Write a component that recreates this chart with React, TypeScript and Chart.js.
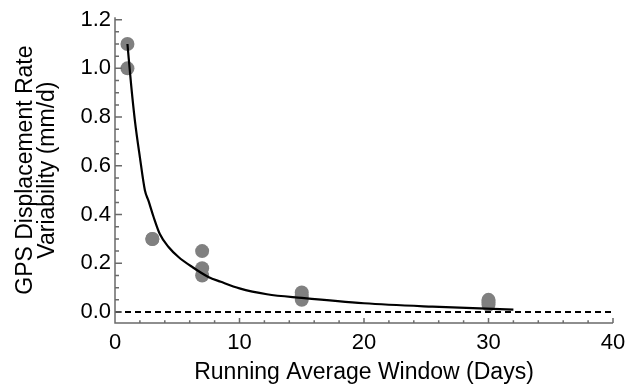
import React, { useEffect, useRef } from "react";
import { Chart, registerables } from "chart.js";

Chart.register(...registerables);

// Observed data points (window length in days, variability mm/d)
const pointDays = [1, 1, 3, 3, 7, 7, 7, 15, 15, 15, 30, 30, 30];
const pointValues = [1.1, 1.0, 0.3, 0.3, 0.25, 0.18, 0.15, 0.08, 0.065, 0.05, 0.05, 0.04, 0.03];

// Fitted curve
const fitDays = [1, 1.3, 1.6, 2.0, 2.4, 2.7, 3.1, 3.6, 4.3, 5.1, 6.2, 7.5, 8.5, 10, 12.2, 15, 20, 25.5, 32];
const fitValues = [1.1, 0.93, 0.785, 0.635, 0.5, 0.455, 0.39, 0.32, 0.267, 0.226, 0.185, 0.144, 0.124, 0.097, 0.073, 0.058, 0.036, 0.022, 0.01];

// Zero reference line
const zeroDays = [0, 40];
const zeroValues = [0, 0];

// Axis ticks
const xMajorTicks = [0, 10, 20, 30, 40];
const yMajorTicks = [0, 0.2, 0.4, 0.6, 0.8, 1.0, 1.2];
const xMinorTicks = [2, 4, 6, 8, 12, 14, 16, 18, 22, 24, 26, 28, 32, 34, 36, 38];
const yMinorTicks = [0.05, 0.1, 0.15, 0.25, 0.3, 0.35, 0.45, 0.5, 0.55, 0.65, 0.7, 0.75, 0.85, 0.9, 0.95, 1.05, 1.1, 1.15];

const xTitle = "Running Average Window (Days)";
const yTitle = ["GPS Displacement Rate", "Variability (mm/d)"];

const FONT = "'Liberation Sans', Arial, sans-serif";
const AXIS_COLOR = "#6a6a6a";

const inwardTicks = {
  id: "inwardTicks",
  afterDatasetsDraw(chart: any) {
    const ctx = chart.ctx;
    const area = chart.chartArea;
    const xs = chart.scales.x;
    const ys = chart.scales.y;
    ctx.save();
    ctx.strokeStyle = AXIS_COLOR;
    ctx.lineWidth = 1.5;
    ctx.setLineDash([]);
    ctx.beginPath();
    ctx.moveTo(area.left, area.top);
    ctx.lineTo(area.left, area.bottom);
    ctx.lineTo(area.right, area.bottom);
    xMajorTicks.forEach((v) => {
      const px = xs.getPixelForValue(v);
      ctx.moveTo(px, area.bottom);
      ctx.lineTo(px, area.bottom - 5);
    });
    xMinorTicks.forEach((v) => {
      const px = xs.getPixelForValue(v);
      ctx.moveTo(px, area.bottom);
      ctx.lineTo(px, area.bottom - 2.8);
    });
    yMajorTicks.forEach((v) => {
      const py = ys.getPixelForValue(v);
      ctx.moveTo(area.left, py);
      ctx.lineTo(area.left + 7, py);
    });
    yMinorTicks.forEach((v) => {
      const py = ys.getPixelForValue(v);
      ctx.moveTo(area.left, py);
      ctx.lineTo(area.left + 4, py);
    });
    ctx.stroke();
    ctx.restore();
  },
};

export default function App() {
  const canvasRef = useRef<HTMLCanvasElement | null>(null);

  useEffect(() => {
    if (!canvasRef.current) return;
    const chart = new Chart(canvasRef.current, {
      type: "scatter",
      data: {
        datasets: [
          {
            label: "fit",
            type: "line",
            data: fitDays.map((d, i) => ({ x: d, y: fitValues[i] })),
            borderColor: "#000",
            borderWidth: 2.2,
            pointRadius: 0,
            cubicInterpolationMode: "monotone",
            fill: false,
            order: 1,
          } as any,
          {
            label: "zero",
            type: "line",
            data: zeroDays.map((d, i) => ({ x: d, y: zeroValues[i] })),
            borderColor: "#000",
            borderWidth: 2,
            borderDash: [6, 4],
            pointRadius: 0,
            fill: false,
            order: 2,
          } as any,
          {
            label: "observed",
            data: pointDays.map((d, i) => ({ x: d, y: pointValues[i] })),
            backgroundColor: "#808080",
            borderWidth: 0,
            pointRadius: 7,
            pointHoverRadius: 7,
            order: 3,
          },
        ],
      },
      options: {
        animation: false,
        responsive: true,
        maintainAspectRatio: false,
        devicePixelRatio: 1,
        layout: { padding: { top: 16, right: 23, left: 0, bottom: 0 } },
        plugins: { legend: { display: false }, tooltip: { enabled: false } },
        scales: {
          x: {
            type: "linear",
            min: 0,
            max: 40,
            afterBuildTicks: (s: any) => {
              s.ticks = xMajorTicks.map((v) => ({ value: v }));
            },
            afterFit: (s: any) => {
              s.height = 64;
            },
            grid: { display: true, drawOnChartArea: false, drawTicks: false },
            border: { display: false },
            ticks: {
              color: "#000",
              font: { family: FONT, size: 22 },
              padding: 7,
              maxRotation: 0,
              autoSkip: false,
            },
            title: {
              display: true,
              text: xTitle,
              color: "#000",
              font: { family: FONT, size: 23, lineHeight: 1 },
              padding: { top: 0, bottom: 3 },
            },
          },
          y: {
            type: "linear",
            min: -0.045,
            max: 1.21,
            afterBuildTicks: (s: any) => {
              s.ticks = yMajorTicks.map((v) => ({ value: v }));
            },
            afterFit: (s: any) => {
              s.width = 115;
            },
            grid: { display: true, drawOnChartArea: false, drawTicks: false },
            border: { display: false },
            ticks: {
              color: "#000",
              font: { family: FONT, size: 22 },
              padding: 4,
              autoSkip: false,
              callback: (v: any) => Number(v).toFixed(1),
            },
            title: {
              display: true,
              text: yTitle,
              color: "#000",
              font: { family: FONT, size: 23, lineHeight: 0.95 },
              padding: { top: 14.5, bottom: 0 },
            },
          },
        },
      },
      plugins: [inwardTicks],
    });
    return () => chart.destroy();
  }, []);

  return (
    <div style={{ position: "fixed", left: 0, top: 0, width: 636, height: 387, background: "#fff" }}>
      <canvas ref={canvasRef} />
    </div>
  );
}
